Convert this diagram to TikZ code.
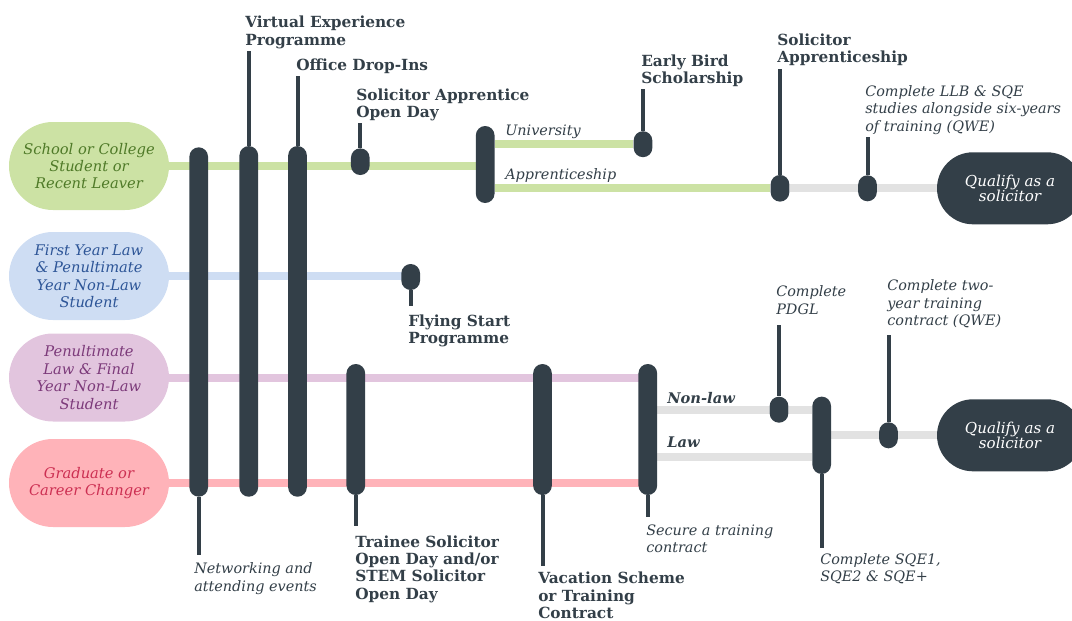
\documentclass[tikz,border=0pt]{standalone}
\usepackage{fontspec}
\setmainfont{DejaVu Serif}
\usetikzlibrary{backgrounds}
\definecolor{dark}{HTML}{333F48}
\definecolor{grnfill}{HTML}{CCE2A4} \definecolor{grntxt}{HTML}{4F7A28}
\definecolor{blufill}{HTML}{CEDDF3} \definecolor{blutxt}{HTML}{2D5597}
\definecolor{purfill}{HTML}{E2C5DE} \definecolor{purtxt}{HTML}{7C3A7A}
\definecolor{pnkfill}{HTML}{FFB3B9} \definecolor{pnktxt}{HTML}{CC2F52}
\definecolor{gry}{HTML}{E2E2E2}
\begin{document}
\begin{tikzpicture}[x=0.75pt,y=-0.75pt,
	start/.style={fill=#1,rounded corners=33pt,minimum width=120pt,minimum height=66pt,inner sep=0pt,align=center,font=\fontsize{11}{13.1}\selectfont\itshape},
	goal/.style={fill=dark,text=white,rounded corners=27pt,minimum width=109.5pt,minimum height=54pt,inner sep=0pt,align=center,font=\fontsize{11.3}{11.5}\selectfont\itshape},
	bar/.style={fill=dark,rounded corners=7pt,minimum width=14pt,minimum height=#1,inner sep=0pt}, bar/.default=19.5pt,
	lab/.style={text=dark,inner sep=0pt,align=left,font=\fontsize{11.5}{12.9}\selectfont\bfseries},
	note/.style={text=dark,inner sep=0pt,align=left,font=\fontsize{10.8}{13.2}\selectfont\itshape},
	track/.style={draw=#1,line width=6pt},
	tail/.style={draw=dark,line width=3pt,shorten >=#1}, tail/.default=1.5pt]
	%\draw[step=50,gray!20] (0,0) grid (1072,621); %helper grid
	\useasboundingbox (0,0) rectangle (1072,621);
	
	\node[start=grnfill,text=grntxt] (school) at (89,166) {School or College\\Student or\\Recent Leaver};
	\node[start=blufill,text=blutxt] (first) at (89,276) {First Year Law\\\& Penultimate\\Year Non-Law\\Student};
	\node[start=purfill,text=purtxt] (penult) at (89,377.5) {Penultimate\\Law \& Final\\Year Non-Law\\Student};
	\node[start=pnkfill,text=pnktxt] (grad) at (89,483) {Graduate or\\Career Changer};
	\node[goal] (qual1) at (1010,188.3) {Qualify as a\\solicitor}; \node[goal] (qual2) at (1010,435.3) {Qualify as a\\solicitor};
	
	\node[bar=262pt] (net) at (198.7,322) {}; \node[bar=263pt] (vep) at (248.8,321.4) {}; \node[bar=263pt] (odi) at (297.5,321.4) {};
	\node[bar=20pt] (sao) at (360.3,161.7) {}; \node[bar=57.75pt] (ua) at (485.2,164.5) {}; \node[bar] (ebs) at (643,144.2) {};
	\node[bar=20pt] (sap) at (780,188.3) {}; \node[bar] (llb) at (867.5,188.3) {}; \node[bar] (fsp) at (410.7,277) {};
	\node[bar=98.25pt] (tso) at (355.8,429.5) {}; \node[bar=98.25pt] (vac) at (542.5,429.5) {}; \node[bar=98.25pt] (sec) at (647.8,429.5) {};
	\node[bar] (pdgl) at (779,409.7) {}; \node[bar=58pt] (sqe) at (821.7,435.3) {}; \node[bar] (qwe) at (888.5,435.3) {};
	
	\node[lab,anchor=south west] (vepT) at (245,48.7) {Virtual Experience\\Programme}; \node[lab,anchor=south west] (odiT) at (296,74.3) {Office Drop-Ins};
	\node[lab,anchor=south west] (saoT) at (356,121) {Solicitor Apprentice\\Open Day}; \node[lab,anchor=south west] (ebsT) at (641,87) {Early Bird\\Scholarship};
	\node[lab,anchor=south west] (sapT) at (777,66) {Solicitor\\Apprenticeship};
	\node[note,anchor=south west] (llbT) at (865,135) {Complete LLB \& SQE\\studies alongside six-years\\of training (QWE)};
	\node[note,anchor=base west] (uni) at (505,135) {University}; \node[note,anchor=base west] (app) at (505,179.5) {Apprenticeship};
	\node[lab,anchor=north west] (fspT) at (408,314.3) {Flying Start\\Programme};
	\node[note,anchor=south west] (pdglT) at (776,315) {Complete\\PDGL}; \node[note,anchor=south west] (qweT) at (887,328.5) {Complete two-\\year training\\contract (QWE)};
	\node[note,font=\fontsize{11}{13}\selectfont\bfseries\itshape,anchor=base west] (nonlaw) at (667,403.3) {Non-law};
	\node[note,font=\fontsize{11}{13}\selectfont\bfseries\itshape,anchor=base west] (law) at (667,447.3) {Law};
	\node[note,anchor=north west] (netT) at (194,562.4) {Networking and\\attending events};
	\node[lab,anchor=north west] (tsoT) at (355,535.6) {Trainee Solicitor\\Open Day and/or\\STEM Solicitor\\Open Day};
	\node[lab,anchor=north west] (vacT) at (538,572) {Vacation Scheme\\or Training\\Contract};
	\node[note,anchor=north west] (secT) at (646,524.1) {Secure a training\\contract}; \node[note,anchor=north west] (sqeT) at (820,553.1) {Complete SQE1,\\SQE2 \& SQE+};
	
	\draw[tail] (vep.north) -- (vep |- vepT.south); \draw[tail] (odi.north) -- (odi |- odiT.south); \draw[tail] (sao.north) -- (sao |- saoT.south);
	\draw[tail] (ebs.north) -- (ebs |- ebsT.south); \draw[tail=2pt] (sap.north) -- (sap |- sapT.south); \draw[tail] (llb.north) -- (llb |- llbT.south);
	\draw[tail=7.5pt] (pdgl.north) -- (pdgl |- pdglT.south); \draw[tail=4.5pt] (qwe.north) -- (qwe |- qweT.south);
	\draw[tail=6pt] (fsp.south) -- (fsp |- fspT.north); \draw[tail=5.6pt] (net.south) -- (net |- netT.north); \draw[tail=7pt] (tso.south) -- (tso |- tsoT.north);
	\draw[tail=4.3pt] (vac.south) -- (vac |- vacT.north); \draw[tail=5.3pt] (sec.south) -- (sec |- secT.north); \draw[tail=3.8pt] (sqe.south) -- (sqe |- sqeT.north);
	
	\begin{pgfonlayer}{background}
		\draw[track=grnfill] (school.east) -- (school.east -| ua.west); \draw[track=grnfill] (ua.east |- ebs) -- (ebs); \draw[track=grnfill] (ua.east |- sap) -- (sap);
		\draw[track=gry] (sap) -- (llb) -- (qual1.west);
		\draw[track=blufill] (first.east) -- (first.east -| fsp);
		\draw[track=purfill] (penult.east) -- (penult.east -| sec); \draw[track=pnkfill] (grad.east) -- (grad.east -| sec);
		\coordinate (lawln) at (647.8,457);
		\draw[track=gry] (sec.east |- pdgl) -- (pdgl) -- (pdgl -| sqe.west); \draw[track=gry] (lawln) -- (lawln -| sqe.west);
		\draw[track=gry] (sqe) -- (qwe) -- (qual2.west);
	\end{pgfonlayer}
\end{tikzpicture}
\end{document}
